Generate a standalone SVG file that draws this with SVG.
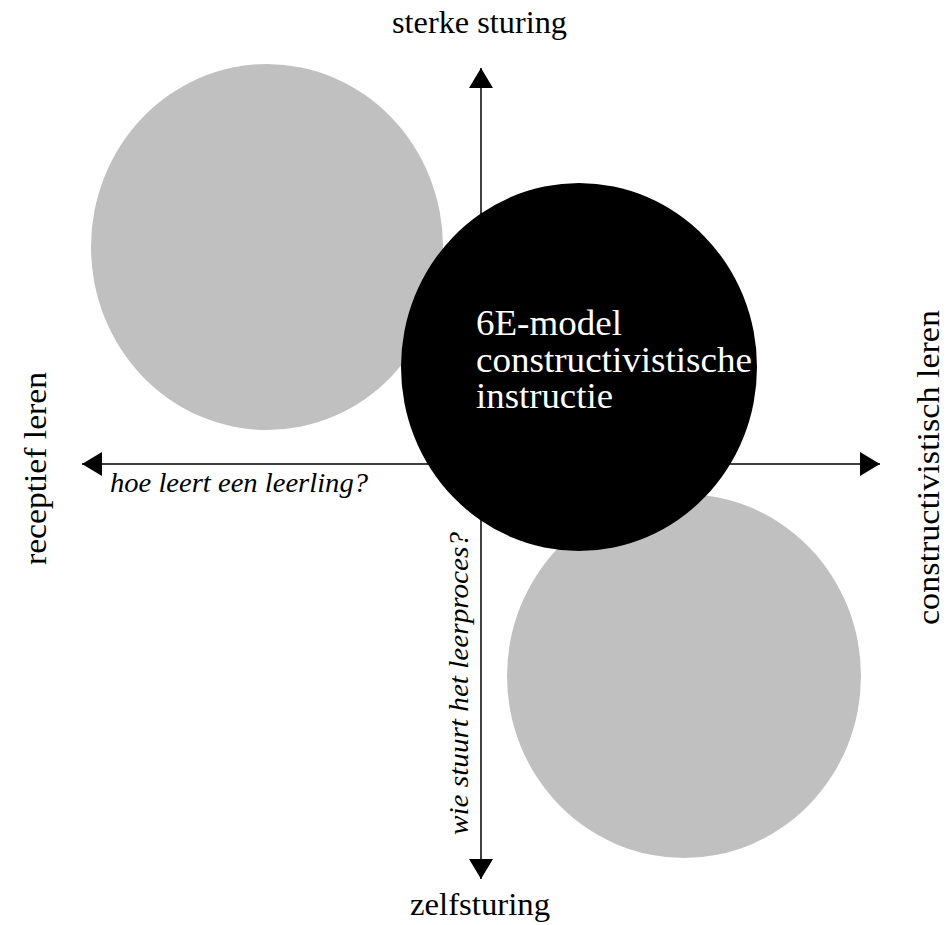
<svg xmlns="http://www.w3.org/2000/svg" width="948" height="925" viewBox="0 0 948 925">
<style>
.lbl{font-family:"Liberation Serif","Times New Roman",serif;font-size:32px;fill:#000}
.q{font-family:"Liberation Serif","Times New Roman",serif;font-size:28px;font-style:italic;fill:#000}
.ctr{font-family:"Liberation Serif","Times New Roman",serif;font-size:35px;fill:#fff}
.ax{stroke:#000;stroke-width:1.5;fill:none}
</style>
<defs>
<marker id="ah" viewBox="0 0 20 24" refX="20" refY="12" markerWidth="20" markerHeight="24" markerUnits="userSpaceOnUse" orient="auto">
<path d="M0,0 L20,12 L0,24 Z" fill="#000"/>
</marker>
</defs>
<g id="connectors">
<line class="ax" x1="481" y1="464" x2="481" y2="68" marker-end="url(#ah)"/>
<line class="ax" x1="481" y1="464" x2="481" y2="879" marker-end="url(#ah)"/>
<line class="ax" x1="481" y1="464" x2="82" y2="464" marker-end="url(#ah)"/>
<line class="ax" x1="481" y1="464" x2="880" y2="464" marker-end="url(#ah)"/>
</g>
<g id="circle-top-left"><ellipse cx="267" cy="247" rx="176" ry="183" fill="#c0c0c0"/></g>
<g id="circle-bottom-right"><ellipse cx="684" cy="676" rx="177" ry="182" fill="#c0c0c0"/></g>
<g id="circle-center">
<ellipse cx="579" cy="367" rx="178" ry="184" fill="#000"/>
<text class="ctr" x="476" y="335" textLength="146" lengthAdjust="spacingAndGlyphs">6E-model</text>
<text class="ctr" x="476" y="372" textLength="276" lengthAdjust="spacingAndGlyphs">constructivistische</text>
<text class="ctr" x="476" y="408" textLength="137" lengthAdjust="spacingAndGlyphs">instructie</text>
</g>
<g id="label-top"><text class="lbl" x="392" y="33" textLength="175" lengthAdjust="spacingAndGlyphs">sterke sturing</text></g>
<g id="label-bottom"><text class="lbl" x="410" y="915" textLength="140" lengthAdjust="spacingAndGlyphs">zelfsturing</text></g>
<g id="label-left"><text class="lbl" transform="translate(46,565) rotate(-90)" textLength="193" lengthAdjust="spacingAndGlyphs">receptief leren</text></g>
<g id="label-right"><text class="lbl" transform="translate(939,625) rotate(-90)" textLength="315" lengthAdjust="spacingAndGlyphs">constructivistisch leren</text></g>
<g id="q-horizontal"><text class="q" x="110" y="492" textLength="258" lengthAdjust="spacingAndGlyphs">hoe leert een leerling?</text></g>
<g id="q-vertical"><text class="q" transform="translate(468,835) rotate(-90)" textLength="303" lengthAdjust="spacingAndGlyphs">wie stuurt het leerproces?</text></g>
</svg>
